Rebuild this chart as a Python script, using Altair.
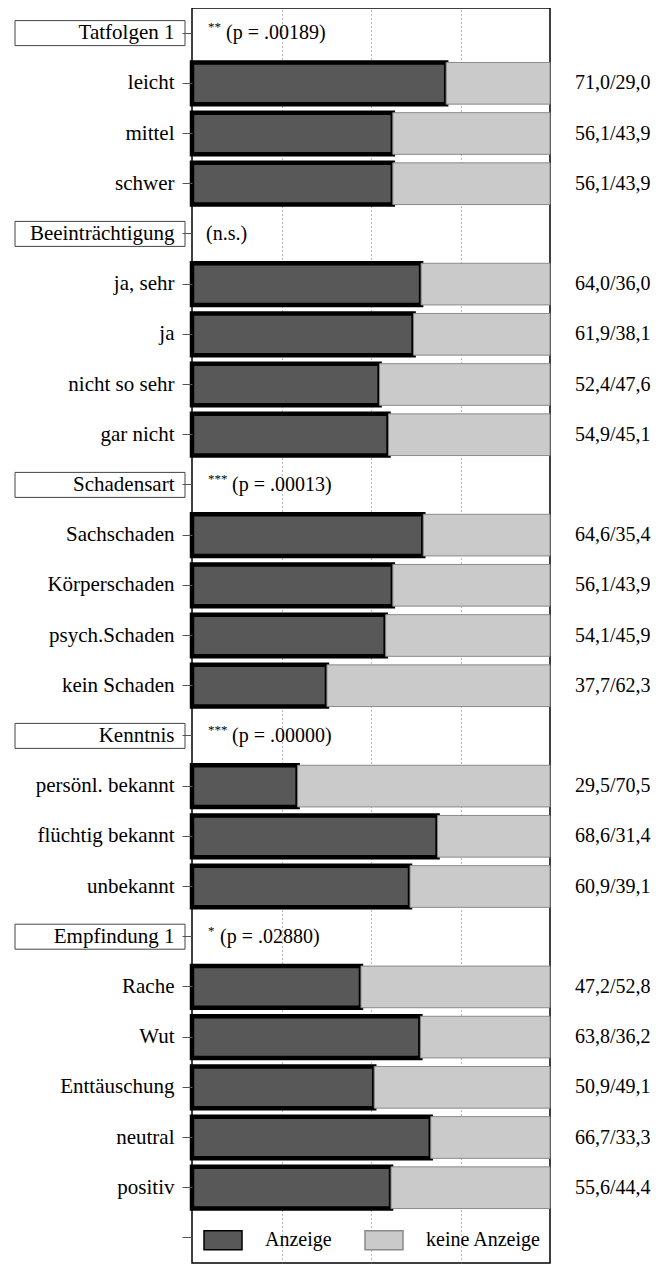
import altair as alt
import pandas as pd

FONT = "Liberation Serif"

# ---------------- data ----------------
groups = ["Tatfolgen 1", "Beeinträchtigung", "Schadensart", "Kenntnis", "Empfindung 1"]
group_stars = ["**", "", "***", "***", "*"]
group_p = ["(p = .00189)", "(n.s.)", "(p = .00013)", "(p = .00000)", "(p = .02880)"]

tatfolgen_items = ["leicht", "mittel", "schwer"]
tatfolgen_anz = [71.0, 56.1, 56.1]
tatfolgen_kein = [29.0, 43.9, 43.9]

beeintr_items = ["ja, sehr", "ja", "nicht so sehr", "gar nicht"]
beeintr_anz = [64.0, 61.9, 52.4, 54.9]
beeintr_kein = [36.0, 38.1, 47.6, 45.1]

schaden_items = ["Sachschaden", "Körperschaden", "psych.Schaden", "kein Schaden"]
schaden_anz = [64.6, 56.1, 54.1, 37.7]
schaden_kein = [35.4, 43.9, 45.9, 62.3]

kenntnis_items = ["persönl. bekannt", "flüchtig bekannt", "unbekannt"]
kenntnis_anz = [29.5, 68.6, 60.9]
kenntnis_kein = [70.5, 31.4, 39.1]

empf_items = ["Rache", "Wut", "Enttäuschung", "neutral", "positiv"]
empf_anz = [47.2, 63.8, 50.9, 66.7, 55.6]
empf_kein = [52.8, 36.2, 49.1, 33.3, 44.4]

status = ["Anzeige", "keine Anzeige"]
legend_row = " "

# ---------------- tables ----------------
blocks = [
    (tatfolgen_items, tatfolgen_anz, tatfolgen_kein),
    (beeintr_items, beeintr_anz, beeintr_kein),
    (schaden_items, schaden_anz, schaden_kein),
    (kenntnis_items, kenntnis_anz, kenntnis_kein),
    (empf_items, empf_anz, empf_kein),
]

rows = []
bar_recs = []
val_recs = []
hdr_recs = []
for g, st, p, (items, anz, kein) in zip(groups, group_stars, group_p, blocks):
    rows.append(g)
    hdr_recs.append({"row": g, "stars": st, "ptext": p})
    for it, a, k in zip(items, anz, kein):
        rows.append(it)
        bar_recs.append({"row": it, "status": status[0], "value": a, "ord": 0})
        bar_recs.append({"row": it, "status": status[1], "value": k, "ord": 1})
        val_recs.append({"row": it, "txt": (f"{a:.1f}/{k:.1f}").replace(".", ",")})
rows.append(legend_row)

bars_df = pd.DataFrame(bar_recs)
vals_df = pd.DataFrame(val_recs)
hdr_df = pd.DataFrame(hdr_recs)

W = 358
H = 1255
step = H / len(rows)

DARK = "#585858"
LIGHT = "#cacaca"

y = alt.Y(
    "row:N",
    scale=alt.Scale(domain=rows, paddingInner=0.17, paddingOuter=0.085),
    axis=alt.Axis(
        title=None, labelFont=FONT, labelFontSize=21, labelColor="black",
        labelPadding=8, tickSize=10, tickColor="#555", domain=False,
        labelLimit=400, zindex=1,
    ),
)

bars = alt.Chart(bars_df).mark_bar().encode(
    x=alt.X(
        "value:Q", stack="zero",
        scale=alt.Scale(domain=[0, 100], nice=False, zero=True),
        axis=alt.Axis(values=[25, 50, 75], labels=False, ticks=False, domain=False,
                      title=None, grid=True, gridDash=[1, 3], gridColor="#777", gridWidth=1),
    ),
    y=y,
    fill=alt.Fill(
        "status:N",
        scale=alt.Scale(domain=status, range=[DARK, LIGHT]),
        legend=alt.Legend(
            title=None, orient="none", legendX=11, legendY=H - step / 2 - 18,
            direction="horizontal", symbolType="M-1,-0.5H1V0.5H-1Z", symbolSize=1444,
            symbolStrokeColor="#222", symbolStrokeWidth=1.5, symbolOpacity=1,
            labelFont=FONT, labelFontSize=20, labelColor="black", labelOffset=22,
            columnPadding=30, padding=0,
        ),
    ),
    stroke=alt.Stroke("status:N", scale=alt.Scale(domain=status, range=["#000000", "#8a8a8a"]), legend=None),
    strokeWidth=alt.condition(alt.datum.status == "Anzeige", alt.value(4.5), alt.value(1)),
    order=alt.Order("ord:Q"),
)

boxes = alt.Chart(hdr_df).mark_rect(height=25, fill="white", stroke="#444", strokeWidth=1).encode(
    y=y, x=alt.value(-177), x2=alt.value(-7)
)

stars = alt.Chart(hdr_df).mark_text(
    align="left", baseline="middle", font=FONT, fontSize=13, dy=-6, color="black"
).encode(y=y, x=alt.value(16), text="stars:N")

ptext = alt.Chart(hdr_df).transform_calculate(
    px="datum.stars == '' ? 14 : 22 + 6 * length(datum.stars)"
).mark_text(align="left", baseline="middle", font=FONT, fontSize=20, color="black").encode(
    y=y, x=alt.X("px:Q", scale=None, axis=None), text="ptext:N"
)

vals = alt.Chart(vals_df).mark_text(
    align="left", baseline="middle", font=FONT, fontSize=20, color="black"
).encode(y=y, x=alt.value(W + 25), text="txt:N")

chart = alt.layer(bars, boxes, stars, ptext, vals).properties(
    width=W, height=H,
    background="white",
    autosize=alt.AutoSizeParams(type="none"),
    padding={"left": 184, "top": 0, "right": 101, "bottom": 2},
).configure_view(stroke="black", strokeWidth=1.5)

chart.save("out.html", embed_options={"renderer": "svg", "actions": False})
